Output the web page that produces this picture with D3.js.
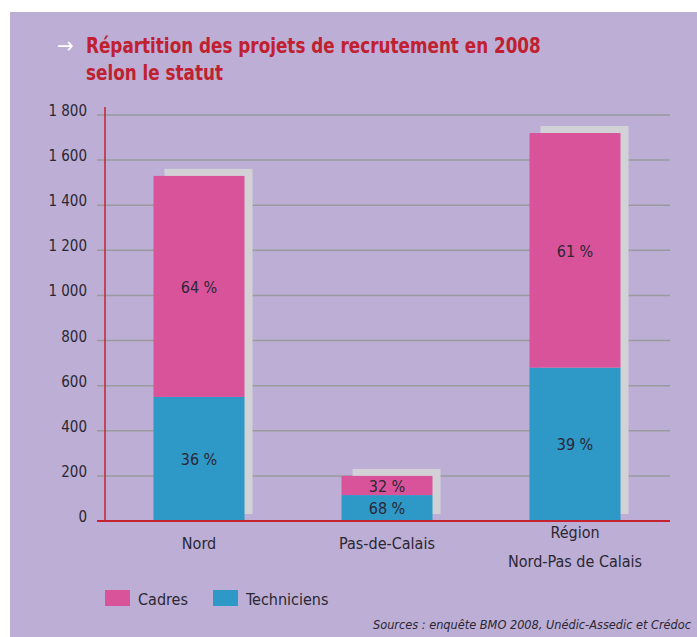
<!DOCTYPE html>
<html>
<head>
<meta charset="utf-8">
<script src="https://cdn.jsdelivr.net/npm/d3@7"></script>
<style>
  body{margin:0;background:#fff;}
  svg{display:block;}
  text{font-family:"Liberation Sans Narrow","DejaVu Sans Condensed","Roboto",sans-serif;}
</style>
</head>
<body>
<svg id="theSVG"></svg>
<script>
// donnees
var categories = ["Nord", "Pas-de-Calais", "Région\nNord-Pas de Calais"];
var techniciens = [550, 115, 680];
var cadres      = [980, 85, 1040];
var pctTech   = ["36 %", "68 %", "39 %"];
var pctCadres = ["64 %", "32 %", "61 %"];
var yTicks = [0, 200, 400, 600, 800, 1000, 1200, 1400, 1600, 1800];
var seriesNames = ["Cadres", "Techniciens"];

var W = 697, H = 637;
var bg = "#bcaed5", pink = "#d9539b", blue = "#2e98c7", shade = "#d2d2d6";
var red = "#c4232f", txt = "#2b2733";

var svg = d3.select("#theSVG").attr("width", W).attr("height", H);

svg.append("rect").attr("x", 10).attr("y", 12).attr("width", W-10).attr("height", H-12)
    .attr("fill", bg);

// titre
svg.append("text").attr("x", 57).attr("y", 53).attr("fill", "#fff")
    .style("font-size", "22px").text("→");
var title = svg.append("text").attr("fill", "#c0202f")
    .attr("transform", "translate(86,0) scale(0.85,1)")
    .style("font-size", "22px").style("font-weight", "bold");
title.append("tspan").attr("x", 0).attr("y", 53).text("Répartition des projets de recrutement en 2008");
title.append("tspan").attr("x", 0).attr("y", 80).text("selon le statut");

var x = d3.scaleBand().domain(categories).range([105, 669])
    .paddingInner(0.516).paddingOuter(0.258);
var y = d3.scaleLinear().domain([0, 1800]).range([521, 115]);

// grille
svg.append("g").selectAll("line").data(yTicks.slice(1)).join("line")
    .attr("x1", 97).attr("x2", 670)
    .attr("y1", function(d){return y(d);}).attr("y2", function(d){return y(d);})
    .attr("stroke", "#9a9a9e").attr("stroke-width", 1.5);

svg.append("g").selectAll("text").data(yTicks).join("text")
    .attr("x", 87).attr("y", function(d){return y(d)+1;})
    .attr("text-anchor", "end").attr("fill", txt).style("font-size", "15px")
    .text(function(d){return d3.format(",")(d).replace(",", " ");});

var data = categories.map(function(c, i){
    return {cat:c, tech:techniciens[i], cad:cadres[i], pt:pctTech[i], pc:pctCadres[i]};
});

var bw = x.bandwidth();
var g = svg.append("g").selectAll("g").data(data).join("g");

// ombre
g.append("rect")
    .attr("x", function(d){return x(d.cat)+11;})
    .attr("y", function(d){return y(d.tech+d.cad)-7;})
    .attr("width", bw-3)
    .attr("height", function(d){return y(0)-y(d.tech+d.cad);})
    .attr("fill", shade);

g.append("rect")
    .attr("x", function(d){return x(d.cat);})
    .attr("y", function(d){return y(d.tech);})
    .attr("width", bw)
    .attr("height", function(d){return y(0)-y(d.tech);})
    .attr("fill", blue);

g.append("rect")
    .attr("x", function(d){return x(d.cat);})
    .attr("y", function(d){return y(d.tech+d.cad);})
    .attr("width", bw)
    .attr("height", function(d){return y(d.tech)-y(d.tech+d.cad);})
    .attr("fill", pink);

g.append("text")
    .attr("x", function(d){return x(d.cat)+bw/2;})
    .attr("y", function(d){return (y(0)+y(d.tech))/2+6;})
    .attr("text-anchor", "middle").attr("fill", txt).style("font-size", "16px")
    .text(function(d){return d.pt;});

g.append("text")
    .attr("x", function(d){return x(d.cat)+bw/2;})
    .attr("y", function(d){return (y(d.tech)+y(d.tech+d.cad))/2+7;})
    .attr("text-anchor", "middle").attr("fill", txt).style("font-size", "16px")
    .text(function(d){return d.pc;});

// axes rouges
svg.append("line").attr("x1", 105).attr("x2", 105).attr("y1", 107).attr("y2", 521)
    .attr("stroke", red).attr("stroke-width", 1.5);
svg.append("line").attr("x1", 97).attr("x2", 670).attr("y1", 521).attr("y2", 521)
    .attr("stroke", red).attr("stroke-width", 2);

// etiquettes des categories
svg.append("g").selectAll("text").data(categories).join("text")
    .attr("text-anchor", "middle").attr("fill", txt).style("font-size", "16px")
    .each(function(c){
        var lines = c.split("\n");
        var t = d3.select(this);
        lines.forEach(function(l, k){
            t.append("tspan").attr("x", x(c)+bw/2)
             .attr("y", lines.length > 1 ? 538 + k*29 : 549)
             .text(l);
        });
    });

// legende
var leg = svg.append("g").selectAll("g").data(seriesNames).join("g")
    .attr("transform", function(d, i){return "translate(" + (105 + i*108) + ",590)";});
leg.append("rect").attr("width", 25).attr("height", 16)
    .attr("fill", function(d, i){return i==0 ? pink : blue;});
leg.append("text").attr("x", 33).attr("y", 15).attr("fill", txt)
    .style("font-size", "16px").text(function(d){return d;});

svg.append("text").attr("x", 373).attr("y", 629).attr("fill", txt)
    .attr("textLength", 318).attr("lengthAdjust", "spacingAndGlyphs")
    .style("font-size", "12.5px").style("font-style", "italic")
    .text("Sources : enquête BMO 2008, Unédic-Assedic et Crédoc");
</script>
</body>
</html>
